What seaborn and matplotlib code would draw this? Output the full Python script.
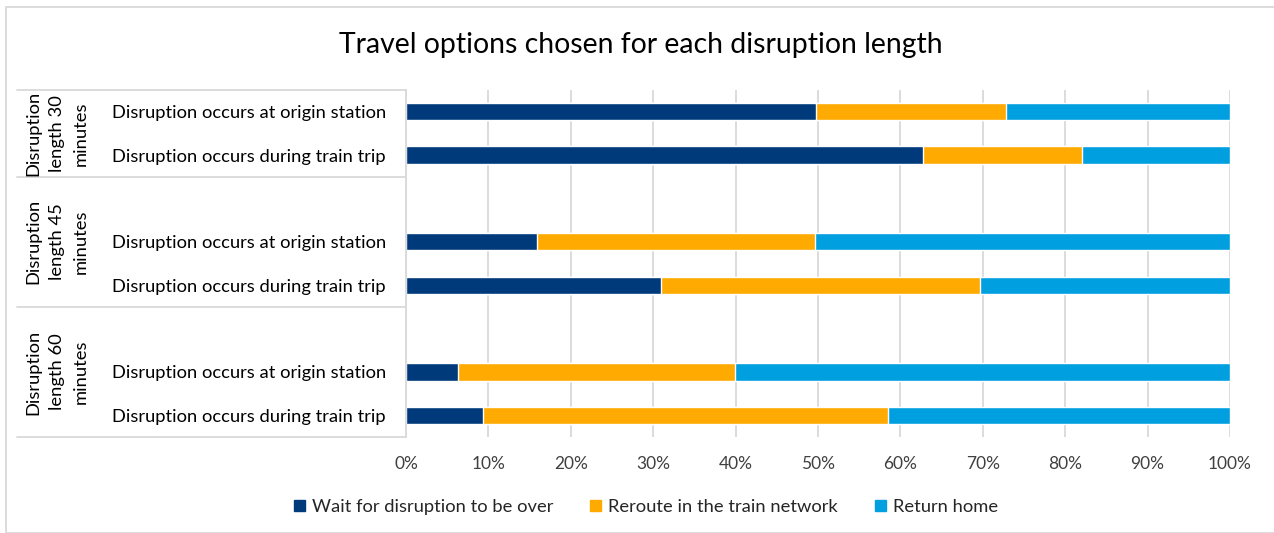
import matplotlib
matplotlib.use("Agg")
import matplotlib.pyplot as plt
import matplotlib.patches as mpatches
from matplotlib.lines import Line2D
import seaborn as sns
import pandas as pd
import numpy as np

# Shares of each travel option (percent), per disruption length and location
groups = ["Disruption\nlength 30\nminutes", "Disruption\nlength 45\nminutes", "Disruption\nlength 60\nminutes"]
situations = ["Disruption occurs at origin station", "Disruption occurs during train trip"]
wait = [49.8, 62.8, 15.9, 30.9, 6.3, 9.4]
reroute = [23.0, 19.2, 33.7, 38.8, 33.6, 49.1]
home = [27.2, 18.0, 50.4, 30.3, 60.1, 41.5]
series_names = ["Wait for disruption to be over", "Reroute in the train network", "Return home"]
colors = ["#003A7A", "#FFAA00", "#009FDF"]
tick_labels = ["0%", "10%", "20%", "30%", "40%", "50%", "60%", "70%", "80%", "90%", "100%"]

# Row ids, with empty spacer slots between the groups
row_ids = ["30o", "30d", "45o", "45d", "60o", "60d"]
order = ["30o", "30d", "gap1", "45o", "45d", "gap2", "60o", "60d"]
df = pd.DataFrame({"row": row_ids, "wait": wait, "reroute": reroute, "home": home})
df["c_wait"] = df["wait"]
df["c_reroute"] = df["wait"] + df["reroute"]
df["c_home"] = df["c_reroute"] + df["home"]

sns.set_theme(style="white")
plt.rcParams["font.family"] = ["Lato", "DejaVu Sans"]

W, H = 1274, 533
fig = plt.figure(figsize=(W / 100, H / 100), dpi=100)
x0, x1, y_top, y_bot = 406, 1230, 90, 437
ax = fig.add_axes([x0 / W, 1 - y_bot / H, (x1 - x0) / W, (y_bot - y_top) / H])

# Vertical gridlines behind the bars
for t in np.arange(0, 101, 10):
    ax.axvline(t, color="#D9D9D9", lw=1.3, zorder=0)

# Stacked bars: draw cumulative totals back to front
for col, color in zip(["c_home", "c_reroute", "c_wait"], colors[::-1]):
    sns.barplot(data=df, y="row", x=col, order=order, color=color,
                width=0.4, orient="h", ax=ax, saturation=1, zorder=2)

ax.set_xlim(0, 100)
ax.set_ylim(7.5, -0.5)
ax.set_xticks(np.arange(0, 101, 10))
ax.set_xticklabels(tick_labels, fontsize=12.5, color="#404040")
ytick_text = []
for i, rid in enumerate(order):
    if rid.startswith("gap"):
        ytick_text.append("")
    else:
        ytick_text.append(situations[0] if rid.endswith("o") else situations[1])
ax.set_yticks(range(len(order)))
ax.set_yticklabels(ytick_text, fontsize=13.2, color="#000000")
ax.tick_params(axis="y", length=0, pad=14.5)
ax.tick_params(axis="x", length=0, pad=14)
ax.set_xlabel("")
ax.set_ylabel("")
for s in ["top", "right", "bottom"]:
    ax.spines[s].set_visible(False)
ax.spines["left"].set_color("#D9D9D9")
ax.spines["left"].set_linewidth(1.3)

# Group separators and rotated group labels on the left
trans = ax.get_yaxis_transform()
x_line0 = (17 - x0) / (x1 - x0)
for yb in [-0.5, 1.5, 4.5, 7.5]:
    ax.add_line(Line2D([x_line0, 0], [yb, yb], transform=trans, color="#D9D9D9",
                       lw=1.3, clip_on=False))
x_lab = (57 - x0) / (x1 - x0)
for label, yc in zip(groups, [0.5, 3.0, 6.0]):
    ax.text(x_lab, yc, label, transform=trans, rotation=90, ha="center", va="center",
            fontsize=13.2, linespacing=1.6, color="#000000")

fig.suptitle("Travel options chosen for each disruption length", x=641 / W, y=1 - 45 / H,
             va="center", fontsize=20.4, color="#000000")

handles = [mpatches.Patch(color=c, label=n) for c, n in zip(colors, series_names)]
fig.legend(handles=handles, loc="center", bbox_to_anchor=(646 / W, 1 - 507 / H), ncol=3,
           frameon=False, fontsize=13.2, handlelength=0.6, handleheight=0.6,
           handletextpad=0.4, columnspacing=2.0)

# Light chart border
fig.add_artist(mpatches.Rectangle((6 / W, 0), 1.2, 1 - 7 / H, transform=fig.transFigure,
                                  fill=False, edgecolor="#D9D9D9", lw=1.3))

fig.savefig("out.png", dpi=100)
